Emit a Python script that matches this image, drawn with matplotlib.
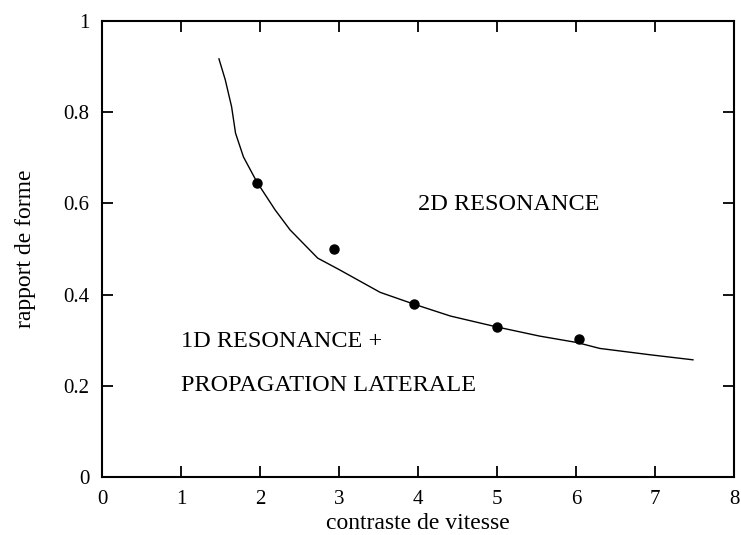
import numpy as np
import matplotlib.pyplot as plt

plt.rcParams['font.family'] = ['Liberation Serif', 'DejaVu Serif']

# courbe limite
courbe_x = [1.48, 1.56, 1.64, 1.69, 1.79, 1.96, 2.19, 2.38, 2.73, 3.0, 3.52, 3.95,
            4.41, 5.0, 5.54, 6.01, 6.30, 6.94, 7.48]
courbe_y = [0.917, 0.871, 0.812, 0.754, 0.702, 0.647, 0.586, 0.542, 0.480, 0.455,
            0.405, 0.379, 0.353, 0.329, 0.309, 0.295, 0.282, 0.268, 0.257]

# points mesures
points_x = [1.96, 2.94, 3.95, 5.0, 6.04]
points_y = [0.645, 0.500, 0.379, 0.329, 0.303]

fig = plt.figure(figsize=(7.41, 5.35), dpi=100)
ax = fig.add_axes([0.1377, 0.1084, 0.8529, 0.8523])

ax.plot(courbe_x, courbe_y, color='black', linewidth=1.0)
ax.plot(points_x, points_y, 'o', color='black', markersize=6.5)

ax.set_xlim(0, 8)
ax.set_ylim(0, 1)
ax.set_xticks(range(0, 9))
ax.set_yticks([0, 0.2, 0.4, 0.6, 0.8, 1])
ax.set_yticklabels(['0', '0.2', '0.4', '0.6', '0.8', '1'])
ax.tick_params(direction='in', length=8, width=1.3, top=True, right=True,
               labelsize=15, pad=9)
for s in ax.spines.values():
    s.set_linewidth(1.5)

ax.set_xlabel('contraste de vitesse', fontsize=17, labelpad=3)
ax.set_ylabel('rapport de forme', fontsize=17, labelpad=20)

ax.text(4.0, 0.597, '2D RESONANCE', fontsize=17.5, va='center')
ax.text(1.0, 0.298, '1D RESONANCE +', fontsize=17.5, va='center')
ax.text(1.0, 0.20, 'PROPAGATION LATERALE', fontsize=17.5, va='center')

fig.savefig('out.png', dpi=100)
